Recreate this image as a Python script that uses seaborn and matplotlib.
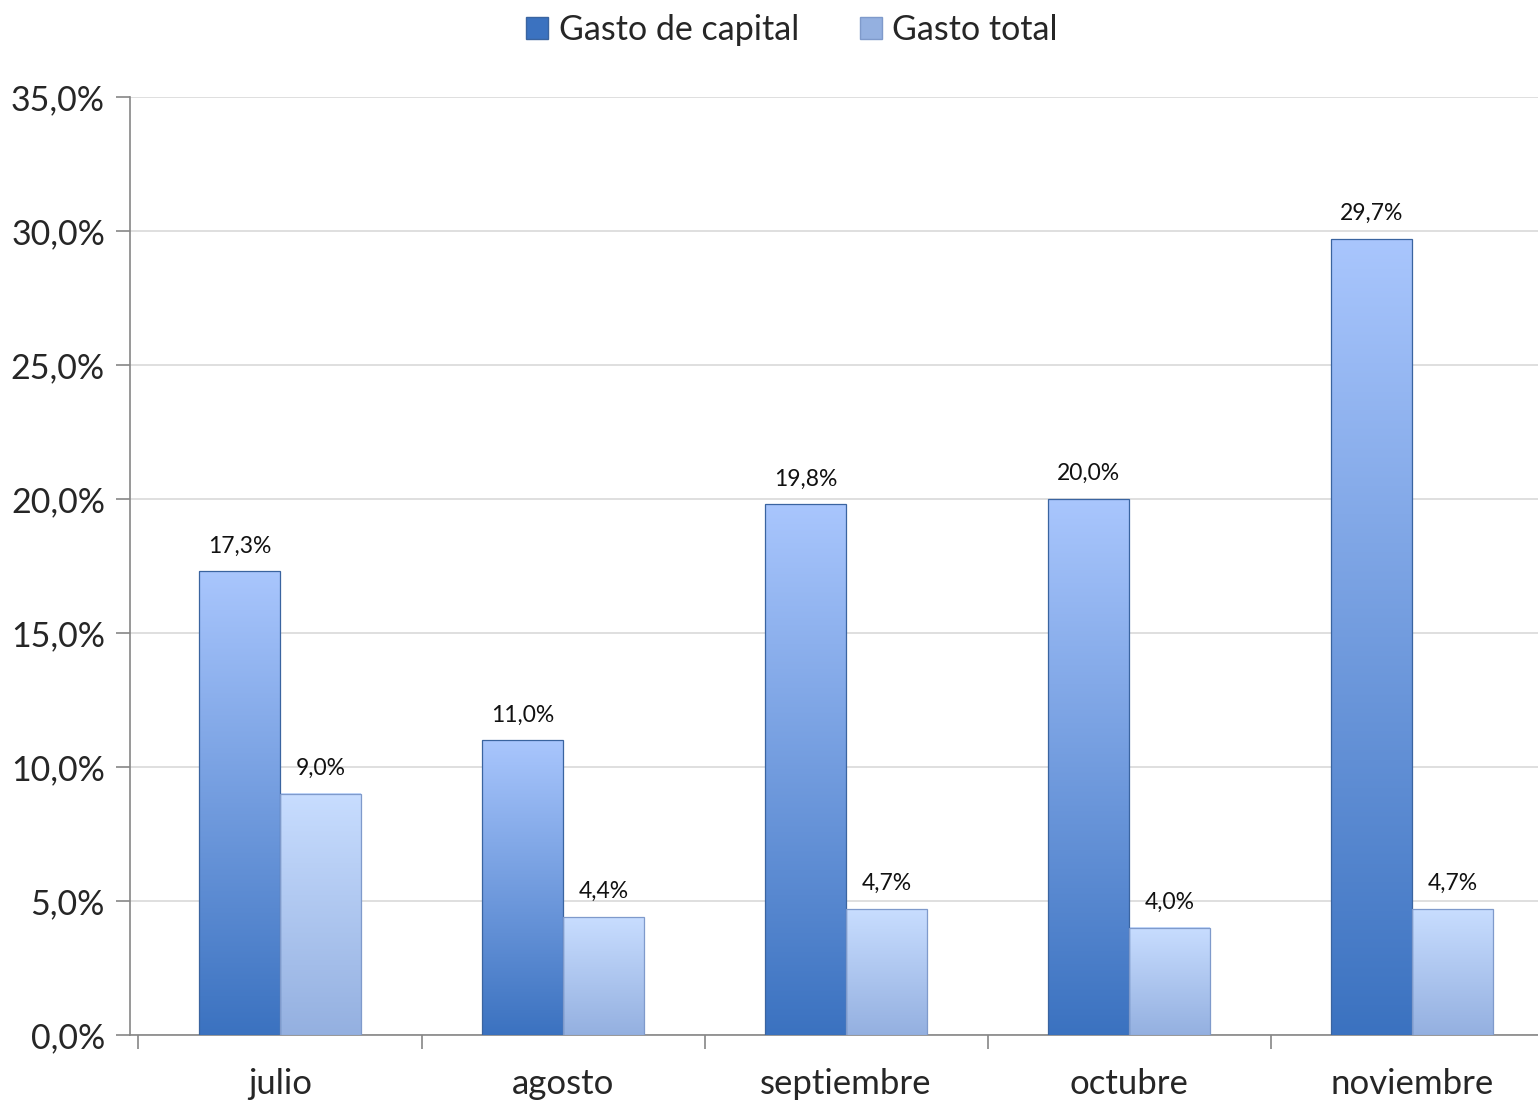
import numpy as np
import pandas as pd
import seaborn as sns
import matplotlib.pyplot as plt
from matplotlib.colors import to_rgb
from matplotlib.patches import Patch

# datos
meses = ["julio", "agosto", "septiembre", "octubre", "noviembre"]
gasto_capital = [17.3, 11.0, 19.8, 20.0, 29.7]
gasto_total = [9.0, 4.4, 4.7, 4.0, 4.7]
series = ["Gasto de capital", "Gasto total"]

# colores (arriba, abajo) del degradado de cada serie
grad = {
    "Gasto de capital": ("#a9c6fd", "#3b72c0"),
    "Gasto total": ("#c8ddff", "#94b0e0"),
}
edge = {"Gasto de capital": "#3a64a0", "Gasto total": "#7f9acb"}

df = pd.DataFrame({
    "mes": meses * 2,
    "serie": [series[0]] * len(meses) + [series[1]] * len(meses),
    "valor": gasto_capital + gasto_total,
})

sns.set_style("white")
plt.rcParams["font.family"] = ["Lato", "DejaVu Sans"]

fig = plt.figure(figsize=(15.38, 11.02), dpi=100)
ax = fig.add_axes([130 / 1538, 1 - 1035 / 1102, 1 - 130 / 1538, (1035 - 97) / 1102])

sns.barplot(data=df, x="mes", y="valor", hue="serie", hue_order=series,
            palette=[grad[s][1] for s in series], width=0.572, ax=ax,
            legend=False, zorder=2)


def gradient(top, bottom, n=256):
    t = np.linspace(0, 1, n)[:, None]
    a = np.array(to_rgb(top))
    b = np.array(to_rgb(bottom))
    return (a * (1 - t) + b * t)[:, None, :]


for serie, cont in zip(series, ax.containers):
    img = gradient(*grad[serie])
    for bar, val in zip(cont, df[df.serie == serie]["valor"]):
        x0, y0 = bar.get_x(), bar.get_y()
        w, h = bar.get_width(), bar.get_height()
        bar.set_facecolor("none")
        bar.set_edgecolor(edge[serie])
        bar.set_linewidth(0.9)
        bar.set_zorder(4)
        ax.imshow(img, extent=(x0, x0 + w, y0, y0 + h), aspect="auto",
                  origin="upper", zorder=3, interpolation="bilinear")
        ax.text(x0 + w / 2, y0 + h + 0.55, f"{val:.1f}%".replace(".", ","),
                ha="center", va="bottom", fontsize=16.5, color="#111111")

ax.set_xlim(-0.53, 4.445)
ax.set_ylim(0, 35)
ax.set_yticks(np.arange(0, 35.1, 5))
ax.set_yticklabels([f"{v:.1f}%".replace(".", ",") for v in np.arange(0, 35.1, 5)])
ax.yaxis.grid(True, color="#d9d9d9", linewidth=1.2, zorder=0)
ax.set_axisbelow(True)

ax.set_xticks(np.arange(-0.5, 4.0, 1.0))
ax.set_xticklabels([])
ax.set_xticks(np.arange(len(meses)), minor=True)
ax.set_xticklabels(meses, minor=True)
ax.tick_params(axis="x", which="major", length=10, width=1.2, color="#868686",
               direction="out", bottom=True)
ax.tick_params(axis="x", which="minor", length=0, labelsize=25, pad=24)
ax.tick_params(axis="y", length=10, width=1.2, color="#868686", labelsize=24.5,
               direction="out", left=True, pad=8)
ax.set_xlabel("")
ax.set_ylabel("")

for side in ["top", "right"]:
    ax.spines[side].set_visible(False)
for side in ["left", "bottom"]:
    ax.spines[side].set_color("#868686")
    ax.spines[side].set_linewidth(1.2)

handles = [Patch(facecolor=grad[s][1], edgecolor=edge[s]) for s in series]
fig.legend(handles, series, loc="upper center", bbox_to_anchor=(0.515, 1.015),
           ncol=2, frameon=False, fontsize=24.5, handlelength=0.65,
           handleheight=0.65, handletextpad=0.3, columnspacing=1.8)

fig.savefig("out.png", dpi=100)
